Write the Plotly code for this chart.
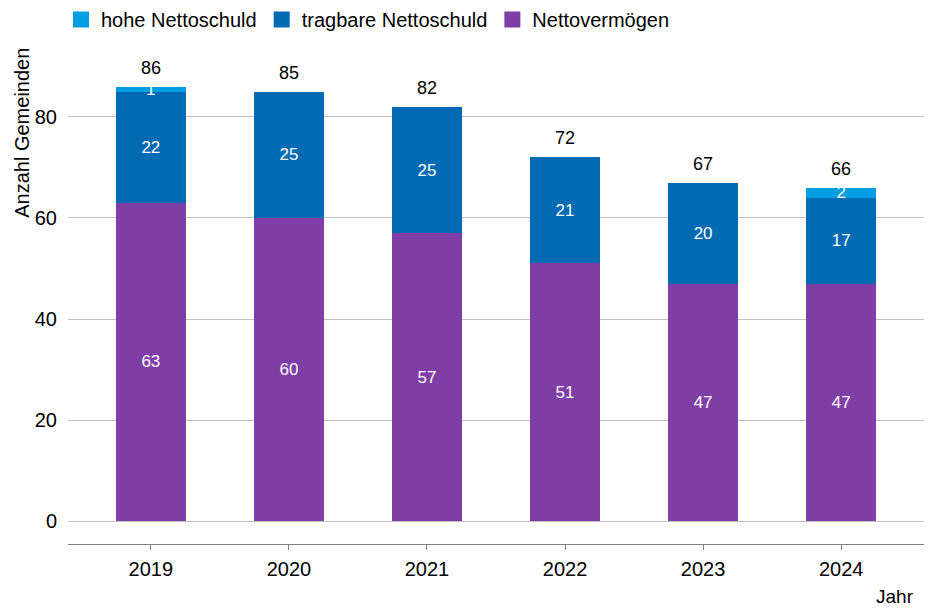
import plotly.graph_objects as go

years = ["2019", "2020", "2021", "2022", "2023", "2024"]
nettovermoegen = [63, 60, 57, 51, 47, 47]
tragbare = [22, 25, 25, 21, 20, 17]
hohe = [1, 0, 0, 0, 0, 2]
totals = [a + b + c for a, b, c in zip(nettovermoegen, tragbare, hohe)]

FONT = "Liberation Sans, Arial, sans-serif"
col_hohe = "#009FE3"
col_trag = "#006AB2"
col_netto = "#7F3DA6"

series = [("Nettovermögen", nettovermoegen, col_netto),
          ("tragbare Nettoschuld", tragbare, col_trag),
          ("hohe Nettoschuld", hohe, col_hohe)]

def labels(vals):
    return [str(v) if v else "" for v in vals]

fig = go.Figure()
for name, vals, col in series:
    fig.add_trace(go.Bar(
        x=years, y=vals, name=name, marker=dict(color=col, line=dict(width=0)),
        text=labels(vals), textposition="inside", insidetextanchor="middle",
        constraintext="none", textangle=0,
        textfont=dict(color="white", size=17, family=FONT),
        hoverinfo="x+y+name", showlegend=False,
    ))

# legend entries with larger square swatches
for name, vals, col in series:
    fig.add_trace(go.Scatter(
        x=[None], y=[None], mode="markers", name=name,
        marker=dict(symbol="square", size=17, color=col),
        showlegend=True, hoverinfo="skip",
    ))

for i, tot in enumerate(totals):
    fig.add_annotation(x=i, y=tot, text=str(tot), showarrow=False,
                       yanchor="bottom", yshift=7,
                       font=dict(size=18, color="#000", family=FONT))

fig.add_annotation(xref="paper", yref="paper", x=0.991, y=-0.106, text="Jahr",
                   showarrow=False, xanchor="right", yanchor="middle",
                   font=dict(size=19, color="#000", family=FONT))

fig.add_annotation(xref="paper", yref="paper", x=-0.054, y=(544 - 46) / 499,
                   text="Anzahl Gemeinden", textangle=-90, showarrow=False,
                   xanchor="center", yanchor="top",
                   font=dict(size=20, color="#000", family=FONT))

fig.update_layout(
    barmode="stack", bargap=0.49,
    width=928, height=608,
    margin=dict(l=68, r=4, t=45, b=64),
    plot_bgcolor="white", paper_bgcolor="white",
    font=dict(family=FONT, size=20, color="#000"),
    legend=dict(orientation="h", x=61 / 928, xref="container", xanchor="left",
                y=1.0, yref="container", yanchor="top", traceorder="reversed",
                font=dict(size=20, family=FONT, color="#000"),
                itemwidth=30, tracegroupgap=0),
    xaxis=dict(type="category", range=[-0.6, 5.6], showline=True, linecolor="#808080",
               linewidth=1, ticks="outside", ticklen=5, tickcolor="#808080",
               ticklabelstandoff=2,
               tickfont=dict(size=20, color="#000"), showgrid=False),
    yaxis=dict(range=[-4.55, 94.25], tickvals=[0, 20, 40, 60, 80], showgrid=True,
               gridcolor="#C0C0C0", gridwidth=1, zeroline=False, showline=False,
               tickfont=dict(size=20, color="#000"), ticklabelstandoff=10),
)

fig.write_html("out.html", config={"displayModeBar": False},
               post_script="document.body.style.margin='0px';")
